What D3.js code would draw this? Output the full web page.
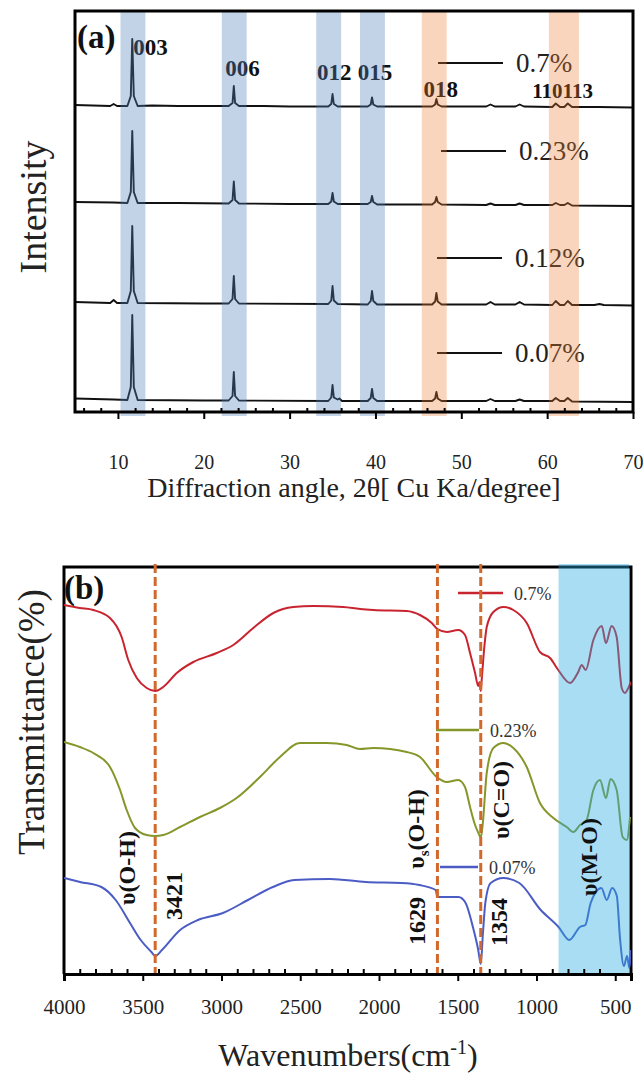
<!DOCTYPE html>
<html>
<head>
<meta charset="utf-8">
<script src="https://cdn.jsdelivr.net/npm/d3@7"></script>
<style>
  body { margin: 0; background: #fff; }
  text { font-family: "Liberation Serif", "Times New Roman", serif; }
</style>
</head>
<body>
<svg id="chart" width="644" height="1077"></svg>
<script>
// ---------------- XRD data: [2θ (deg), intensity (a.u.)] ----------------
const xrdSamples = ["0.7%", "0.23%", "0.12%", "0.07%"];
const xrdStackOffset = [306, 209, 109, 12];

const xrd07 = [[5,1],[9.1,0],[9.5,2],[9.9,0],[11.1,0],[11.5,10],[11.67,67],[11.85,10],[12.3,0],[14,0.5],[17,0],[20,0],
  [22.9,0],[23.35,3],[23.5,20],[23.65,3],[24.1,0],[27,0],[30,-0.5],[34.5,-0.5],[34.85,2],[35.0,12],[35.15,2],[35.6,-0.5],
  [39.1,-0.5],[39.45,1.5],[39.6,8.5],[39.75,1.5],[40.2,-0.5],[44,-0.5],[46.6,-0.5],[46.95,1.5],[47.1,7],[47.25,1.5],[47.7,-0.5],
  [52.9,-0.5],[53.4,1.5],[53.9,-0.5],[56.3,-0.5],[56.8,1.5],[57.3,-0.5],[60.6,-1],[61.0,2.5],[61.5,-1],[62.0,-1],[62.4,2.5],[62.9,-1],
  [66,-1],[70,-1.5]];
const xrd023 = [[5,1],[9.5,0.5],[11.1,0],[11.5,11],[11.67,72],[11.85,11],[12.3,0],[17,0],[22.9,-0.5],[23.35,3],[23.5,21.5],[23.65,3],
  [24.1,-0.5],[30,-1],[34.5,-1],[34.85,1.5],[35.0,10],[35.15,1.5],[35.6,-1],[39.1,-1],[39.45,1],[39.6,7],[39.75,1],[40.2,-1.5],
  [46.6,-1.5],[46.95,1],[47.1,6],[47.25,1],[47.7,-1.5],[52.9,-2],[53.4,-0.5],[53.9,-2],[56.3,-2],[56.8,-0.5],[57.3,-2],
  [60.6,-2],[61.0,0],[61.5,-2],[62.0,-2],[62.4,0],[62.9,-2.5],[70,-3]];
const xrd012 = [[5,1],[9.1,0],[9.5,3],[9.9,0],[11.1,0],[11.5,12],[11.67,77],[11.85,12],[12.3,0],[20,-0.5],[22.9,-0.5],[23.35,4],
  [23.5,27],[23.65,4],[24.1,-0.5],[34.5,-1],[34.85,2.5],[35.0,17],[35.15,2.5],[35.6,-1],[39.1,-1.5],[39.45,2],[39.6,12],[39.75,2],
  [40.2,-1.5],[46.6,-1.5],[46.95,1.5],[47.1,10],[47.25,1.5],[47.7,-1.5],[52.9,-1.5],[53.4,1],[53.9,-1.5],[56.3,-1.5],[56.8,1],
  [57.3,-1.5],[60.6,-2],[61.0,2],[61.5,-2],[62.0,-2],[62.4,2],[62.9,-2],[65.5,-2],[66.1,-1],[66.6,-2],[70,-2.5]];
const xrd007 = [[5,1.5],[9.5,0.5],[11.1,0],[11.5,13],[11.67,85],[11.85,13],[12.3,0],[20,-0.5],[22.9,-0.5],[23.35,4],[23.5,28],
  [23.65,4],[24.1,-0.5],[34.5,-1],[34.85,2.5],[35.0,15],[35.15,2.5],[35.6,0.5],[35.8,1.5],[36.1,-1],[39.1,-1],[39.45,2],[39.6,11],
  [39.75,2],[40.2,-1],[46.6,-1],[46.95,1.5],[47.1,8],[47.25,1.5],[47.7,-1],[52.9,-1],[53.4,1],[53.9,-1],[56.3,-1],[56.8,0.5],
  [57.3,-1],[60.6,-1],[61.0,2],[61.5,-1],[62.0,-1],[62.4,2],[62.9,-1.5],[70,-2]];
const xrdSeries = [xrd07, xrd023, xrd012, xrd007];

const hklNames = ["003", "006", "012", "015", "018", "110", "113"];
const xrdBandsLDH = [[10.3, 13.2], [22.1, 25.0], [33.1, 36.0], [38.2, 41.1]];
const xrdBandsOther = [[45.4, 48.3], [60.2, 63.7]];
const xrdMajorTicks = [10, 20, 30, 40, 50, 60, 70];

// ---------------- FTIR data: [wavenumber (cm-1), transmittance (a.u.)] ----------------
const ftirSamples = ["0.7%", "0.23%", "0.07%"];
const ftir07 = [[4000,373],[3900,370],[3814,368],[3708,360],[3634,341],[3592,318],[3538,300],[3475,290],[3421,287],[3370,291],
  [3284,305],[3179,316],[3030,325],[2925,333],[2798,350],[2671,365],[2544,371],[2417,372],[2227,371],[2121,369],[2036,368],
  [1824,367],[1740,363],[1665,355],[1629,349],[1570,346],[1497,348],[1454,343],[1422,325],[1390,305],[1370,292],[1362,296],
  [1354,287],[1348,298],[1333,328],[1316,351],[1274,366],[1210,371],[1147,368],[1062,355],[978,326],[914,320],[862,308],
  [787,295],[735,306],[713,313],[688,308],[639,338],[586,352],[559,335],[523,352],[491,341],[459,290],[438,285],[417,290],[400,296]];
const ftir023 = [[4000,236],[3900,231],[3814,225],[3708,211],[3644,188],[3602,168],[3549,150],[3475,143],[3421,142],[3370,143],
  [3263,151],[3137,161],[3010,170],[2904,180],[2756,201],[2629,221],[2502,235],[2332,235],[2205,233],[2121,229],[2036,230],
  [1824,226],[1740,221],[1634,201],[1570,196],[1497,198],[1454,191],[1422,171],[1390,153],[1363,143],[1354,140],[1342,153],
  [1316,205],[1274,230],[1210,235],[1147,230],[1062,211],[978,175],[893,160],[808,151],[766,146],[724,153],[682,158],
  [639,188],[597,198],[559,180],[530,199],[491,188],[453,141],[427,138],[406,161]];
const ftir007 = [[4000,100],[3898,96],[3763,91],[3672,78],[3581,55],[3513,38],[3445,26],[3421,22],[3378,28],[3263,48],
  [3150,58],[2991,65],[2832,78],[2674,91],[2538,98],[2311,99],[2084,96],[1858,95],[1744,93],[1640,88],[1629,81],[1495,81],
  [1450,75],[1404,51],[1370,28],[1354,14],[1340,45],[1325,75],[1291,95],[1211,100],[1109,95],[973,68],[860,51],[792,38],
  [724,51],[690,53],[656,75],[588,90],[554,78],[520,90],[490,82],[470,40],[445,12],[425,22],[410,10],[400,28]];
const ftirSeries = [ftir07, ftir023, ftir007];
const ftirColors = ["#c8242f", "#86962a", "#4b5cc4"];

const bandPositions = [3421, 1629, 1354];
const metalOxygenRange = [860, 400];
const ftirMajorTicks = [4000, 3500, 3000, 2500, 2000, 1500, 1000, 500];

// ---------------- drawing ----------------
const svg = d3.select("#chart");
const FONT = '"Liberation Serif", "Times New Roman", serif';

/* ===== Panel (a): XRD ===== */
const A = { left: 75, right: 633, top: 11, bottom: 412 };
const xA = d3.scaleLinear().domain([5, 70]).range([A.left, A.right]);
const yA = d3.scaleLinear().domain([0, 401]).range([A.bottom, A.top]);

svg.append("clipPath").attr("id", "clipA").append("rect")
  .attr("x", A.left).attr("y", A.top).attr("width", A.right - A.left).attr("height", A.bottom - A.top);

const gA = svg.append("g");
xrdSeries.forEach((s, i) => {
  const off = xrdStackOffset[i];
  gA.append("path")
    .datum(s)
    .attr("clip-path", "url(#clipA)")
    .attr("fill", "none")
    .attr("stroke", "#111")
    .attr("stroke-width", 1.9)
    .attr("stroke-linejoin", "round")
    .attr("d", d3.line().x(d => xA(d[0])).y(d => yA(d[1] + off)));
});

// hkl labels (centre angle, baseline y)
const hklLayout = [[13.8, 55], [24.5, 76], [35.2, 80], [39.95, 80], [47.6, 97]];
hklLayout.forEach((p, i) => {
  gA.append("text")
    .attr("x", xA(p[0])).attr("y", p[1])
    .attr("text-anchor", "middle")
    .attr("font-size", 23).attr("font-weight", "bold").attr("fill", "#111")
    .text(hklNames[i]);
});
// the two closely spaced reflections share one line of text
const pair = gA.append("text")
  .attr("x", xA(61.8)).attr("y", 98)
  .attr("text-anchor", "middle")
  .attr("font-size", 21).attr("font-weight", "bold").attr("fill", "#111");
pair.append("tspan").text(hklNames[5]);
pair.append("tspan").text(hklNames[6]);

// sample labels
const xrdLegend = [[438, 503, 63], [441, 506, 151], [437, 502, 258], [437, 502, 353]];
xrdSamples.forEach((s, i) => {
  const [x1, x2, y] = xrdLegend[i];
  gA.append("line").attr("x1", x1).attr("x2", x2).attr("y1", y).attr("y2", y)
    .attr("stroke", "#111").attr("stroke-width", 2);
  gA.append("text").attr("x", x2 + 13).attr("y", y + 9)
    .attr("font-size", 27).attr("fill", "#222").text(s);
});

gA.append("text").attr("x", 77).attr("y", 48)
  .attr("font-size", 33).attr("font-weight", "bold").attr("fill", "#111").text("(a)");

// translucent highlight bands
xrdBandsLDH.forEach(b => {
  gA.append("rect").attr("x", xA(b[0])).attr("width", xA(b[1]) - xA(b[0]))
    .attr("y", A.top).attr("height", A.bottom - A.top + 4)
    .attr("fill", "#4f81bd").attr("fill-opacity", 0.35);
});
xrdBandsOther.forEach(b => {
  gA.append("rect").attr("x", xA(b[0])).attr("width", xA(b[1]) - xA(b[0]))
    .attr("y", A.top).attr("height", A.bottom - A.top + 4)
    .attr("fill", "#ed7d31").attr("fill-opacity", 0.32);
});

// frame
gA.append("rect").attr("x", A.left).attr("y", A.top)
  .attr("width", A.right - A.left).attr("height", A.bottom - A.top)
  .attr("fill", "none").attr("stroke", "#000").attr("stroke-width", 3);

// axis
const minorA = d3.range(6, 70, 2).filter(v => v % 10 !== 0);
const axA = gA.append("g").attr("transform", `translate(0,${A.bottom})`)
  .call(d3.axisBottom(xA).tickValues(xrdMajorTicks).tickSize(7).tickPadding(36).tickFormat(d3.format("d")));
axA.select(".domain").remove();
axA.selectAll("line").attr("stroke", "#000").attr("stroke-width", 2);
axA.selectAll("text").attr("font-size", 20).attr("font-family", FONT).attr("fill", "#222");
const axAm = gA.append("g").attr("transform", `translate(0,${A.bottom})`)
  .call(d3.axisBottom(xA).tickValues(minorA).tickSize(-4).tickFormat(""));
axAm.select(".domain").remove();
axAm.selectAll("line").attr("stroke", "#000").attr("stroke-width", 2);

gA.append("text").attr("x", (A.left + A.right) / 2).attr("y", 497)
  .attr("text-anchor", "middle").attr("font-size", 28).attr("fill", "#222")
  .text("Diffraction angle, 2θ[ Cu Ka/degree]");
gA.append("text").attr("transform", `translate(46,207) rotate(-90)`)
  .attr("text-anchor", "middle").attr("font-size", 38).attr("fill", "#222").text("Intensity");

/* ===== Panel (b): FTIR ===== */
const B = { left: 64, right: 631, top: 567, bottom: 974 };
const xB = d3.scaleLinear().domain([4000, 400]).range([B.left, B.right]);
const yB = d3.scaleLinear().domain([4, 411]).range([B.bottom, B.top]);

const gB = svg.append("g");
// frame (left, top, right)
gB.append("path")
  .attr("d", `M${B.left},${B.bottom}V${B.top}H${B.right}V${B.bottom}`)
  .attr("fill", "none").attr("stroke", "#000").attr("stroke-width", 3);

svg.append("clipPath").attr("id", "clipB").append("rect")
  .attr("x", B.left).attr("y", B.top - 30).attr("width", B.right - B.left).attr("height", B.bottom - B.top + 30);

ftirSeries.forEach((s, i) => {
  gB.append("path")
    .datum(s)
    .attr("clip-path", "url(#clipB)")
    .attr("fill", "none")
    .attr("stroke", ftirColors[i])
    .attr("stroke-width", 2)
    .attr("stroke-linejoin", "round")
    .attr("d", d3.line().x(d => xB(d[0])).y(d => yB(d[1])).curve(d3.curveMonotoneX));
});

// sample labels
const ftirLegend = [[458, 503, 593], [436, 479, 730], [440, 478, 867]];
ftirSamples.forEach((s, i) => {
  const [x1, x2, y] = ftirLegend[i];
  gB.append("line").attr("x1", x1).attr("x2", x2).attr("y1", y).attr("y2", y)
    .attr("stroke", ftirColors[i]).attr("stroke-width", 2.5);
  gB.append("text").attr("x", x2 + 11).attr("y", y + 7)
    .attr("font-size", 18).attr("fill", "#333").text(s);
});

// metal–oxygen region
gB.append("rect")
  .attr("x", xB(metalOxygenRange[0])).attr("width", xB(metalOxygenRange[1]) - xB(metalOxygenRange[0]) - 2)
  .attr("y", B.top - 3).attr("height", B.bottom - B.top + 3)
  .attr("fill", "rgb(40,170,225)").attr("fill-opacity", 0.4);

// band markers
bandPositions.forEach(w => {
  gB.append("line").attr("x1", xB(w)).attr("x2", xB(w)).attr("y1", B.top - 3).attr("y2", B.bottom)
    .attr("stroke", "#d2692c").attr("stroke-width", 3).attr("stroke-dasharray", "9,4");
});

// rotated annotations
function vText(x, y, parts) {
  const t = gB.append("text").attr("transform", `translate(${x},${y}) rotate(-90)`)
    .attr("text-anchor", "middle").attr("dominant-baseline", "central")
    .attr("font-size", 24).attr("font-weight", "bold").attr("fill", "#111");
  parts.forEach(p => {
    const ts = t.append("tspan").text(p.t);
    if (p.sub) ts.attr("font-size", 15).attr("baseline-shift", "sub");
  });
}
vText(127, 868, [{ t: "υ(O-H)" }]);
vText(174, 896, [{ t: String(bandPositions[0]) }]);
vText(416, 829, [{ t: "υ" }, { t: "s", sub: true }, { t: "(O-H)" }]);
vText(417, 921, [{ t: String(bandPositions[1]) }]);
vText(501, 800, [{ t: "υ(C=O)" }]);
vText(499, 922, [{ t: String(bandPositions[2]) }]);
vText(589, 857, [{ t: "υ(M-O)" }]);

gB.append("text").attr("x", 64).attr("y", 599)
  .attr("font-size", 33).attr("font-weight", "bold").attr("fill", "#111").text("(b)");

// bottom axis
const minorB = d3.range(3900, 400, -100).filter(v => v % 500 !== 0);
const axB = gB.append("g").attr("transform", `translate(0,${B.bottom})`)
  .call(d3.axisBottom(xB).tickValues(ftirMajorTicks).tickSize(7).tickPadding(18).tickFormat(d3.format("d")));
axB.select(".domain").attr("stroke", "#000").attr("stroke-width", 3);
axB.selectAll("line").attr("stroke", "#000").attr("stroke-width", 2);
axB.selectAll("text").attr("font-size", 21).attr("font-family", FONT).attr("fill", "#222");
const axBm = gB.append("g").attr("transform", `translate(0,${B.bottom})`)
  .call(d3.axisBottom(xB).tickValues(minorB).tickSize(-5).tickFormat(""));
axBm.select(".domain").remove();
axBm.selectAll("line").attr("stroke", "#000").attr("stroke-width", 2);

const tB = gB.append("text").attr("x", 348).attr("y", 1066)
  .attr("text-anchor", "middle").attr("font-size", 32).attr("fill", "#222");
tB.append("tspan").text("Wavenumbers(cm");
tB.append("tspan").attr("font-size", 20).attr("dy", -12).text("-1");
tB.append("tspan").attr("dy", 12).text(")");

gB.append("text").attr("transform", `translate(44,722) rotate(-90)`)
  .attr("text-anchor", "middle").attr("font-size", 37).attr("fill", "#222").text("Transmittance(%)");
</script>
</body>
</html>
